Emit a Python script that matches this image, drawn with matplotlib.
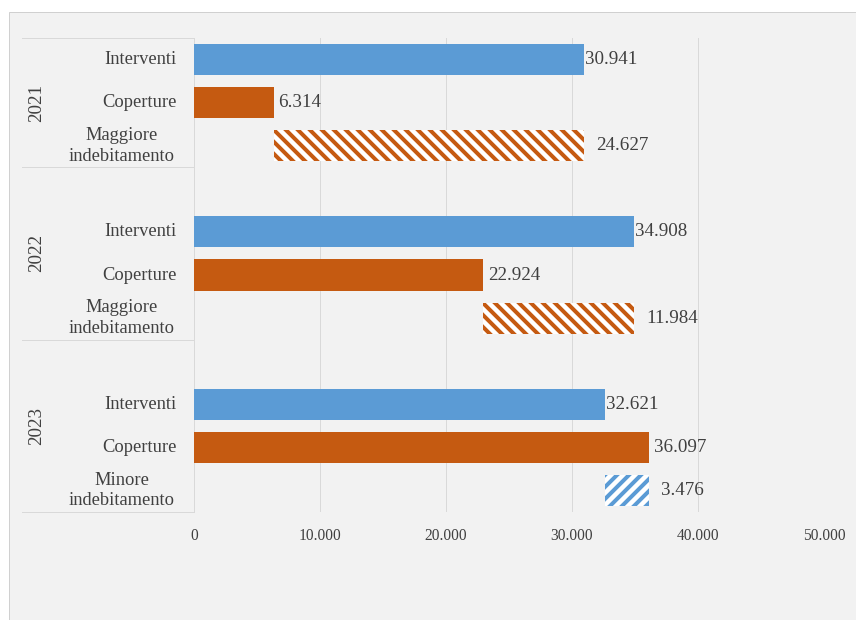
import matplotlib.pyplot as plt
from matplotlib.patches import Rectangle

years = ['2021', '2022', '2023']
interventi = [30941, 34908, 32621]
coperture = [6314, 22924, 36097]
diff_labels = ['Maggiore\nindebitamento', 'Maggiore\nindebitamento', 'Minore\nindebitamento']
x_ticks = [0, 10000, 20000, 30000, 40000, 50000]

blue = '#5b9bd5'
orange = '#c55a11'
grey_txt = '#404040'
line_col = '#d9d9d9'

plt.rcParams['font.family'] = ['Liberation Serif', 'DejaVu Serif']
plt.rcParams['hatch.linewidth'] = 4.0

fig = plt.figure(figsize=(856 / 72, 620 / 72), dpi=72)
fig.patch.set_facecolor('white')
fig.patches.append(Rectangle((9 / 856, 0), 1, 1 - 12 / 620, transform=fig.transFigure,
                             facecolor='#f2f2f2', edgecolor='#d0d0d0', lw=1, zorder=-5))

ax = fig.add_axes([194 / 856, 1 - 512 / 620, 630 / 856, 474 / 620])
ax.set_facecolor('none')
ytr = ax.get_yaxis_transform()

h = 0.72
fmt = lambda v: f'{v:,}'.replace(',', '.')
for i, yr in enumerate(years):
    base = 4 * i
    iv, cv = interventi[i], coperture[i]
    ax.barh(base, iv, height=h, color=blue, zorder=3)
    ax.barh(base + 1, cv, height=h, color=orange, zorder=3)
    diff = iv - cv
    col = orange if diff > 0 else blue
    hatch = '\\\\' if diff > 0 else '//'
    ax.barh(base + 2, abs(diff), left=min(iv, cv), height=h, facecolor='white',
            edgecolor=col, hatch=hatch, lw=0, zorder=3)
    ax.annotate(fmt(iv), (iv, base), xytext=(1, 0), textcoords='offset points',
                va='center', ha='left', fontsize=19, color=grey_txt)
    ax.annotate(fmt(cv), (cv, base + 1), xytext=(5, 0), textcoords='offset points',
                va='center', ha='left', fontsize=19, color=grey_txt)
    ax.annotate(fmt(abs(diff)), (max(iv, cv), base + 2), xytext=(12, 0), textcoords='offset points',
                va='center', ha='left', fontsize=19, color=grey_txt)

    # category labels on the left
    ax.text(-17 / 630, base, 'Interventi', transform=ytr, ha='right', va='center',
            fontsize=18.5, color=grey_txt)
    ax.text(-17 / 630, base + 1, 'Coperture', transform=ytr, ha='right', va='center',
            fontsize=18.5, color=grey_txt)
    ax.text(-72 / 630, base + 2, diff_labels[i], transform=ytr, ha='center', va='center',
            fontsize=18.5, color=grey_txt, linespacing=1.3)

# group separators and year labels
seps = [-0.5, 2.5, 6.5, 10.5]
for s in seps:
    ax.plot([-172 / 630, 0], [s, s], transform=ytr, color=line_col, lw=1, clip_on=False)
for i, yr in enumerate(years):
    ax.text(-157 / 630, (seps[i] + seps[i + 1]) / 2, yr, transform=ytr,
            rotation=90, ha='center', va='center', fontsize=19, color=grey_txt)

ax.set_ylim(10.5, -0.5)
ax.set_xlim(0, 50000)
ax.set_yticks([])
ax.set_xticks(x_ticks)
ax.set_xticklabels([fmt(t) for t in x_ticks], fontsize=15.5, color=grey_txt)
ax.tick_params(axis='x', length=0, pad=16)
ax.grid(axis='x', color=line_col, lw=1, zorder=0)
for sp in ['top', 'right', 'bottom']:
    ax.spines[sp].set_visible(False)
ax.spines['left'].set_color(line_col)

fig.savefig('out.png', dpi=72)
